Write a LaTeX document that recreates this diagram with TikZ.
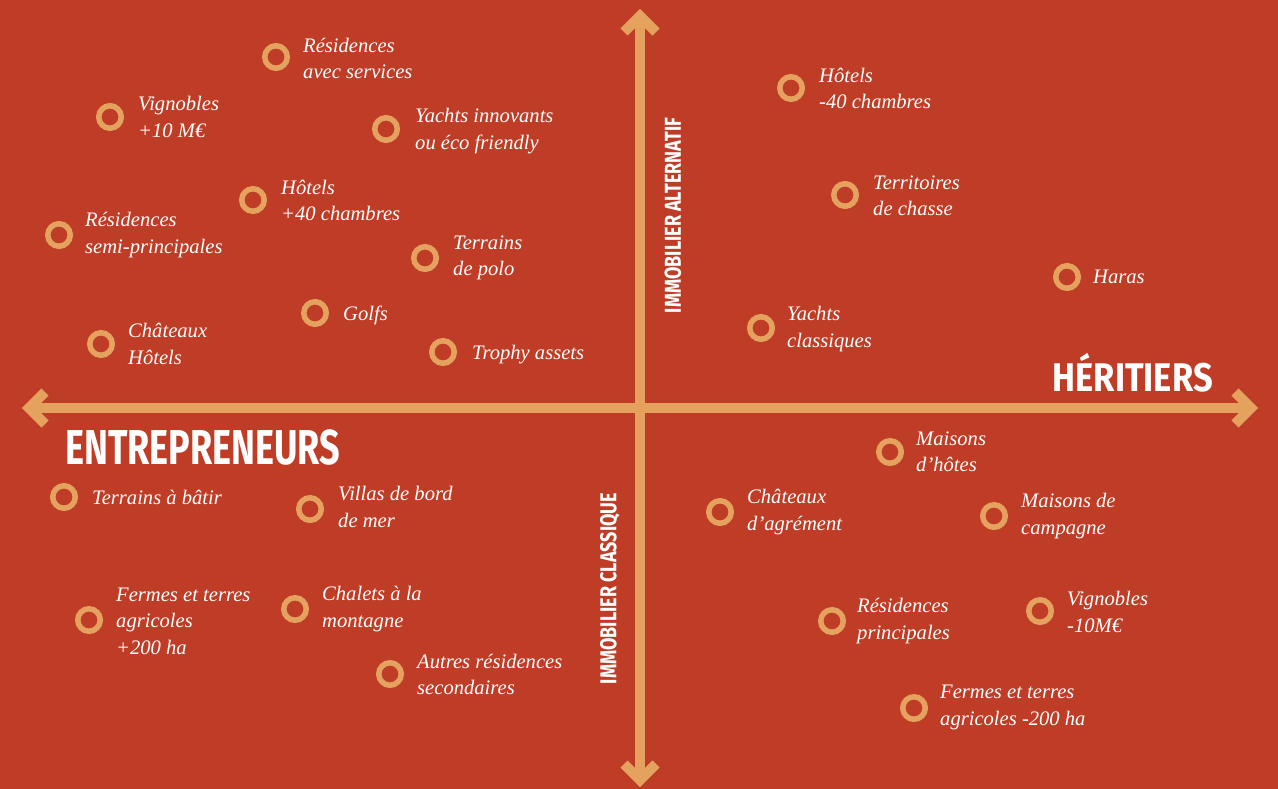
\documentclass[tikz,border=0pt]{standalone}
\usepackage{fontspec}
\usepackage{graphicx}
\setmainfont{Liberation Serif}
\newfontfamily\headfont{Fira Sans}
\usetikzlibrary{calc}
\definecolor{bgred}{RGB}{191,61,38}
\definecolor{ochre}{RGB}{229,161,94}
\begin{document}
\begin{tikzpicture}[x=1pt,y=-1pt,
  ring/.style={circle,draw=ochre,line width=5.5pt,minimum size=22.5pt,inner sep=0pt},
  lbl/.style={anchor=west,align=left,text=white,inner sep=0pt,
    font=\fontsize{20.6}{26.5}\selectfont\itshape},
  head/.style={text=white,inner sep=0pt,font=\headfont\bfseries},
  axis/.style={draw=ochre,line width=10pt,line cap=butt},
  chev/.style={draw=ochre,line width=10pt,line join=miter,line cap=butt}]
\fill[bgred] (0,0) rectangle (1278,789);
\useasboundingbox (0,0) rectangle (1278,789);
% axes
\coordinate (L) at (29,408);
\coordinate (R) at (1251,408);
\coordinate (T) at (640,16);
\coordinate (B) at (640,780);
\draw[axis] (L) -- (R);
\draw[axis] (B) -- (T);
\draw[chev] ($(L)+(16,-16)$) -- (L) -- ($(L)+(16,16)$);
\draw[chev] ($(R)+(-16,-16)$) -- (R) -- ($(R)+(-16,16)$);
\draw[chev] ($(T)+(-16,16)$) -- (T) -- ($(T)+(16,16)$);
\draw[chev] ($(B)+(-16,-16)$) -- (B) -- ($(B)+(16,-16)$);
% headings
\node[head,anchor=base east] (her) at (1213,391)
  {\fontsize{40}{40}\selectfont\resizebox{160pt}{\height}{HÉRITIERS}};
\node[head,anchor=base west] (ent) at (65,464)
  {\fontsize{49}{49}\selectfont\resizebox{275pt}{\height}{ENTREPRENEURS}};
\node[head,rotate=90] (alt) at (673,215.5)
  {\fontsize{23}{23}\selectfont\resizebox{195pt}{\height}{IMMOBILIER ALTERNATIF}};
\node[head,rotate=90] (cla) at (610,588.5)
  {\fontsize{23}{23}\selectfont\resizebox{191pt}{\height}{IMMOBILIER CLASSIQUE}};
% top-left
\node[ring] (c1) at (276,57) {};   \node[lbl] (t1) at (303,58.5) {Résidences\\avec services};
\node[ring] (c2) at (110,117) {};  \node[lbl] (t2) at (138,117) {Vignobles\\+10 M€};
\node[ring] (c3) at (386,129) {};  \node[lbl] (t3) at (415,131) {Yachts innovants\\ou éco friendly};
\node[ring] (c4) at (253,200) {};  \node[lbl] (t4) at (281,200.5) {Hôtels\\+40 chambres};
\node[ring] (c5) at (59,235) {};   \node[lbl] (t5) at (85,235) {Résidences\\semi-principales};
\node[ring] (c6) at (425,258) {};  \node[lbl] (t6) at (453,258) {Terrains\\de polo};
\node[ring] (c7) at (315,313) {};  \node[lbl] (t7) at (343,315.5) {Golfs};
\node[ring] (c8) at (101,344) {};  \node[lbl] (t8) at (128,344) {Châteaux\\Hôtels};
\node[ring] (c9) at (443,352) {};  \node[lbl] (t9) at (472,354.5) {Trophy assets};
% top-right
\node[ring] (c10) at (791,88) {};  \node[lbl] (t10) at (819,88.5) {Hôtels\\-40 chambres};
\node[ring] (c11) at (845,195) {}; \node[lbl] (t11) at (873,196) {Territoires\\de chasse};
\node[ring] (c12) at (1067,277) {};\node[lbl] (t12) at (1093,276.5) {Haras};
\node[ring] (c13) at (761,328) {}; \node[lbl] (t13) at (787,329) {Yachts\\classiques};
% bottom-left
\node[ring] (c14) at (64,497) {};  \node[lbl] (t14) at (92,497.5) {Terrains à bâtir};
\node[ring] (c15) at (310,509) {}; \node[lbl] (t15) at (338,507) {Villas de bord\\de mer};
\node[ring] (c16) at (89,620) {};  \node[lbl] (t16) at (116,621) {Fermes et terres\\agricoles\\+200 ha};
\node[ring] (c17) at (295,609) {}; \node[lbl] (t17) at (322,609) {Chalets à la\\montagne};
\node[ring] (c18) at (390,674) {}; \node[lbl] (t18) at (417,674.5) {Autres résidences\\secondaires};
% bottom-right
\node[ring] (c19) at (890,452) {}; \node[lbl] (t19) at (916,452) {Maisons\\d’hôtes};
\node[ring] (c20) at (720,512) {}; \node[lbl] (t20) at (747,512) {Châteaux\\d’agrément};
\node[ring] (c21) at (994,516) {}; \node[lbl] (t21) at (1021,516) {Maisons de\\campagne};
\node[ring] (c22) at (832,621) {}; \node[lbl] (t22) at (857,621) {Résidences\\principales};
\node[ring] (c23) at (1040,611) {};\node[lbl] (t23) at (1067,612) {Vignobles\\-10M€};
\node[ring] (c24) at (914,708) {}; \node[lbl] (t24) at (940,707.5) {Fermes et terres\\agricoles -200 ha};
\end{tikzpicture}
\end{document}
